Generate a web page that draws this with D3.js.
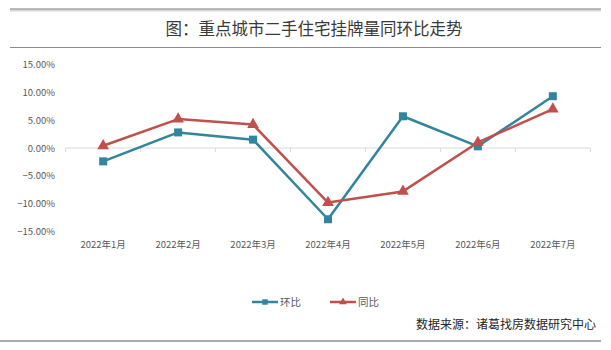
<!DOCTYPE html>
<html><head><meta charset="utf-8">
<script src="https://cdn.jsdelivr.net/npm/d3@7"></script>
<style>body{margin:0;background:#fff}svg{display:block}</style>
</head><body>
<script>
const categories = ["2022年1月","2022年2月","2022年3月","2022年4月","2022年5月","2022年6月","2022年7月"];
const huanbi = [-2.4, 2.8, 1.5, -12.8, 5.7, 0.3, 9.3];
const tongbi = [0.4, 5.2, 4.2, -9.8, -7.8, 1.0, 7.0];
const yTicks = [15, 10, 5, 0, -5, -10, -15];
const title = "图：重点城市二手住宅挂牌量同环比走势";
const source = "数据来源：诸葛找房数据研究中心";
const seriesNames = ["环比","同比"];
const colors = ["#31859C","#C0504D"];

const W = 611, H = 350;
const svg = d3.select("body").append("svg").attr("width", W).attr("height", H);
const font = "'Noto Sans CJK SC', 'Noto Sans', sans-serif";

// frame lines
svg.append("line").attr("x1",10).attr("x2",601).attr("y1",10).attr("y2",10).attr("stroke","#d9d9d9").attr("stroke-width",3);
svg.append("line").attr("x1",10).attr("x2",601).attr("y1",9).attr("y2",9).attr("stroke","#8c8c8c").attr("stroke-width",1.2);
svg.append("line").attr("x1",10).attr("x2",601).attr("y1",47.5).attr("y2",47.5).attr("stroke","#8c8c8c").attr("stroke-width",1.2);
svg.append("line").attr("x1",0).attr("x2",601).attr("y1",341).attr("y2",341).attr("stroke","#8c8c8c").attr("stroke-width",1.5);

svg.append("text").attr("x",314).attr("y",35).attr("text-anchor","middle")
  .attr("font-family",font).attr("font-size",16.5).attr("font-weight","normal").attr("fill","#3a3a3a").text(title);

const x = d3.scaleBand().domain(categories).range([65.7, 590.3]);
const y = d3.scaleLinear().domain([-15, 15]).range([231.5, 64.5]);

// y labels
svg.append("g").selectAll("text").data(yTicks).join("text")
  .attr("x", 55).attr("y", d => y(d) + 3.5).attr("text-anchor","end")
  .attr("font-family",font).attr("font-size",9.5).attr("fill","#595959")
  .text(d => d3.format(".2f")(d) + "%");

// zero axis
const ax = svg.append("g").attr("transform", `translate(0,${y(0)})`);
ax.append("line").attr("x1",65.7).attr("x2",590.3).attr("stroke","#d9d9d9");
ax.selectAll("line.t").data(d3.range(categories.length+1)).join("line").attr("class","t")
  .attr("x1", i => 65.7 + i*x.step()).attr("x2", i => 65.7 + i*x.step())
  .attr("y1",0).attr("y2",4).attr("stroke","#d9d9d9");

// x labels
svg.append("g").selectAll("text").data(categories).join("text")
  .attr("x", d => x(d) + x.bandwidth()/2).attr("y", 248).attr("text-anchor","middle")
  .attr("font-family",font).attr("font-size",9.5).attr("fill","#595959").text(d => d);

const line = d3.line().x((d,i) => x(categories[i]) + x.bandwidth()/2).y(d => y(d));
[huanbi, tongbi].forEach((data, s) => {
  svg.append("path").datum(data).attr("d", line).attr("fill","none")
    .attr("stroke", colors[s]).attr("stroke-width", 2.5).attr("stroke-linejoin","round");
  const sym = d3.symbol().type(s === 0 ? d3.symbolSquare : d3.symbolTriangle).size(s === 0 ? 64 : 60);
  svg.append("g").selectAll("path").data(data).join("path")
    .attr("transform", (d,i) => `translate(${x(categories[i]) + x.bandwidth()/2},${y(d)})`)
    .attr("d", sym).attr("fill", colors[s]);
});

// legend
const legX = [252, 330];
seriesNames.forEach((n, s) => {
  const g = svg.append("g").attr("transform", `translate(${legX[s]},302)`);
  g.append("line").attr("x1",0).attr("x2",26).attr("stroke",colors[s]).attr("stroke-width",2.5);
  g.append("path").attr("transform","translate(13,0)")
    .attr("d", d3.symbol().type(s === 0 ? d3.symbolSquare : d3.symbolTriangle).size(s===0?30:26)()).attr("fill",colors[s]);
  g.append("text").attr("x",28).attr("y",4).attr("font-family",font).attr("font-size",10.5).attr("fill","#595959").text(n);
});

svg.append("text").attr("x",596).attr("y",329).attr("text-anchor","end")
  .attr("font-family",font).attr("font-size",12).attr("fill","#262626").text(source);
</script>
</body></html>
